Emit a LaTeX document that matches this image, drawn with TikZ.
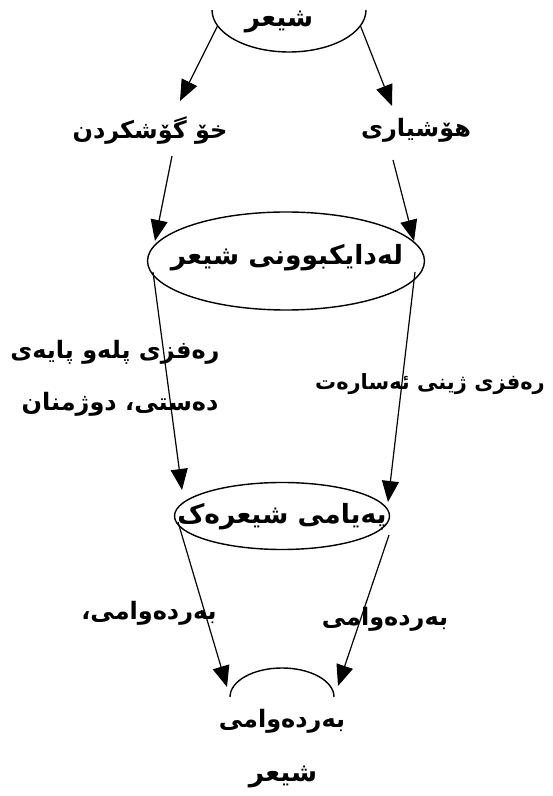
\documentclass[tikz,border=0pt]{standalone}
\usepackage{fontspec}
\usetikzlibrary{shapes.geometric,arrows.meta,calc}
\TeXXeTstate=1
\newfontfamily\arabicfont[Script=Arabic]{DejaVu Sans}
\begin{document}
\begin{tikzpicture}[x=1pt,y=1pt,
  txt/.style={font=\arabicfont\bfseries\fontsize{24}{28}\selectfont, inner sep=1pt},
  bigtxt/.style={font=\arabicfont\bfseries\fontsize{26.5}{30}\selectfont, inner sep=1pt},
  smalltxt/.style={font=\arabicfont\bfseries\fontsize{21}{25}\selectfont, inner sep=1pt},
  oval/.style={ellipse, draw, line width=1.4pt, inner sep=0pt},
  arr/.style={line width=1.2pt, -{Triangle[length=21pt,width=17pt]}}]
\useasboundingbox (0,0) rectangle (553,796);
% top partial ellipse
\coordinate (topc) at (289,786);
\draw[line width=1.4pt] ([shift={(topc)}]180:77 and 42) arc[start angle=180,end angle=360,x radius=77,y radius=42];
\node[bigtxt] (t0) at (279,774) {\beginR شیعر\endR};
\node[txt] (l1) at (150,665) {\beginR خۆ گۆشکردن\endR};
\node[txt] (r1) at (416,666) {\beginR هۆشیاری\endR};
\node[oval, minimum width=277pt, minimum height=98pt] (mid) at (286,535) {};
\node[bigtxt] (midt) at (287,538) {\beginR لەدایکبوونی شیعر\endR};
\node[txt] (la) at (115,444) {\beginR رەفزی پلەو پایەی\endR};
\node[txt] (lb) at (120,392) {\beginR دەستی، دوژمنان\endR};
\node[smalltxt] (ra) at (430,412) {\beginR رەفزی ژینی ئەسارەت\endR};
\node[oval, minimum width=215pt, minimum height=67pt] (bot) at (282,280) {};
\node[bigtxt] (bott) at (282,279) {\beginR پەیامی شیعرەک\endR};
\node[txt] (lc) at (149,183) {\beginR بەردەوامی،\endR};
\node[txt] (rc) at (385,177) {\beginR بەردەوامی\endR};
% bottom cap
\coordinate (capc) at (282,99);
\draw[line width=1.4pt] ([shift={(capc)}]0:52 and 29) arc[start angle=0,end angle=180,x radius=52,y radius=29];
\node[txt] (b1) at (282,75) {\beginR بەردەوامی\endR};
\node[bigtxt] (b2) at (283,19) {\beginR شیعر\endR};
% connectors
\draw[arr] ([shift={(topc)}]202:77 and 42) -- ($(l1)+(30,30)$);
\draw[arr] ([shift={(topc)}]338:77 and 42) -- ($(r1)+(-24,24)$);
\draw[arr] ($(l1)+(22,-25)$) -- ($(mid)+(-131,20)$);
\draw[arr] ($(r1)+(-23,-30)$) -- ($(mid)+(128,20)$);
\draw[arr] ($(mid)+(-133,-11)$) -- ($(bot)+(-100,26)$);
\draw[arr] ($(mid)+(129,-11)$) -- ($(bot)+(106,14)$);
\draw[arr] ($(bot)+(-104,-6)$) -- ($(capc)+(-55,10)$);
\draw[arr] ($(bot)+(107,-19)$) -- ($(capc)+(56,11)$);
\end{tikzpicture}
\end{document}
